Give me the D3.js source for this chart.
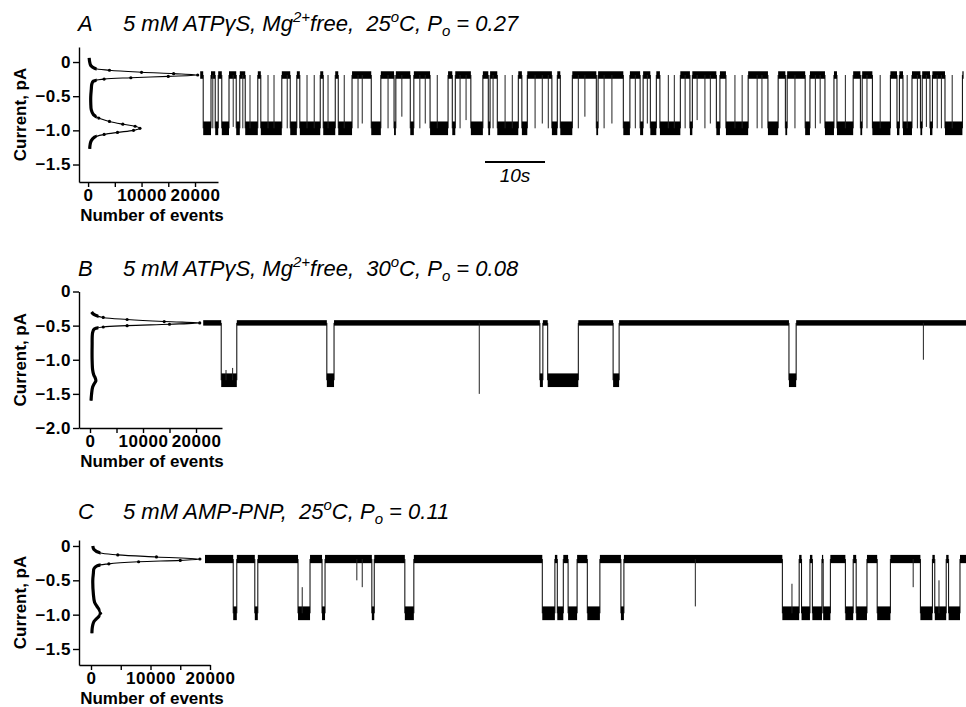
<!DOCTYPE html>
<html><head><meta charset="utf-8">
<script src="https://cdn.jsdelivr.net/npm/d3@7"></script>
<style>
body{margin:0;background:#fff;}
svg{display:block;font-family:"Liberation Sans",Arial,Helvetica,sans-serif;}
</style></head><body>
<svg id="chart" width="966" height="707"></svg>
<script>
// ================= DATA =================
const panelLetters = ["A", "B", "C"];
const titleSegA = [["5 mM ATPγS, Mg",""],["2+","sup"],["free,  25",""],["o","sup"],["C, P",""],["o","sub"],[" = 0.27",""]];
const titleSegB = [["5 mM ATPγS, Mg",""],["2+","sup"],["free,  30",""],["o","sup"],["C, P",""],["o","sub"],[" = 0.08",""]];
const titleSegC = [["5 mM AMP-PNP,  25",""],["o","sup"],["C, P",""],["o","sub"],[" = 0.11",""]];
const yAxisTitle = "Current, pA";
const xAxisTitle = "Number of events";
const scaleBarLabel = "10s";
const scaleBarSeconds = 10;

const yTicksA = [0, -0.5, -1.0, -1.5];
const yTicksB = [0, -0.5, -1.0, -1.5, -2.0];
const yTicksC = [0, -0.5, -1.0, -1.5];
const xTicks = [0, 5000, 10000, 15000, 20000];
const xTickLabels = [0, 10000, 20000];

// all-points histograms: [current (pA), number of events]
const histCurrentA = [0.06, 0.0, -0.05, -0.09, -0.12, -0.15, -0.17, -0.19, -0.21, -0.23, -0.25, -0.28, -0.32, -0.4, -0.5, -0.6, -0.7, -0.77, -0.82, -0.87, -0.91, -0.94, -0.97, -1.0, -1.03, -1.06, -1.1, -1.15, -1.2, -1.27];
const histCountA   = [200, 300, 500, 1200, 4000, 10000, 16000, 20500, 15000, 8000, 3000, 1000, 700, 600, 500, 500, 600, 1000, 2000, 4000, 6500, 8800, 9700, 8500, 5500, 3000, 1200, 600, 400, 300];
const histCurrentB = [-0.3, -0.34, -0.38, -0.41, -0.44, -0.46, -0.48, -0.5, -0.52, -0.55, -0.6, -0.8, -1.0, -1.15, -1.22, -1.27, -1.31, -1.35, -1.4, -1.5, -1.6];
const histCountB   = [300, 800, 2500, 7000, 14000, 20700, 15000, 7000, 2500, 800, 500, 400, 400, 500, 700, 1000, 1100, 800, 500, 300, 200];
const histCurrentC = [0.0, -0.05, -0.1, -0.13, -0.16, -0.19, -0.21, -0.23, -0.26, -0.29, -0.33, -0.4, -0.5, -0.7, -0.82, -0.88, -0.93, -0.98, -1.02, -1.06, -1.1, -1.15, -1.2, -1.27];
const histCountC   = [300, 500, 1500, 4500, 11000, 18300, 15000, 8000, 3000, 1000, 500, 400, 300, 400, 600, 1000, 1400, 1600, 1400, 900, 500, 300, 200, 150];

// single-channel traces: closed / open current levels (pA), record span (s), openings [start s, end s]
const levelsA = [-0.19, -0.97];
const spanA = [1.2, 128.3];
const openA = [[1.7,3.0],[3.7,4.2],[4.8,6.0],[7.2,7.8],[8.7,10.8],[11.3,14.8],[16.2,17.3],[17.8,21.2],[21.7,23.7],[24.2,26.5],[29.7,31.3],[33.5,33.8],[36.2,36.8],[39.5,42.5],[43.2,43.7],[46.3,48.3],[49.2,49.5],[50.7,54.2],[54.8,55.7],[59.8,60.7],[61.2,63.2],[67.2,67.5],[71.7,72.8],[74.5,75.0],[76.2,77.2],[77.8,81.2],[82.8,83.2],[87.2,87.8],[88.8,92.5],[95.8,97.5],[98.7,99.0],[102.0,102.8],[105.3,106.8],[107.3,110.0],[111.2,111.5],[113.2,116.2],[117.3,117.7],[118.3,119.8],[121.2,121.5],[122.8,123.2],[125.3,128.2]];
// brief events: [time s, current reached pA]
const spikesA = [[3.3,-0.97],[6.7,-0.95],[8.3,-0.97],[15.7,-0.97],[27.5,-0.97],[28.2,-0.9],[32.5,-0.97],[34.8,-0.8],[37.8,-0.97],[38.7,-0.9],[44.5,-0.97],[45.5,-0.85],[50.0,-0.97],[57.0,-0.97],[58.2,-0.9],[59.2,-0.97],[64.2,-0.97],[65.3,-0.8],[68.5,-0.97],[69.8,-0.9],[73.7,-0.97],[75.7,-0.9],[82.0,-0.97],[84.0,-0.85],[85.3,-0.97],[86.2,-0.9],[94.0,-0.97],[94.8,-0.97],[100.3,-0.97],[103.7,-0.97],[104.5,-0.9],[112.3,-0.97],[120.7,-0.97],[122.2,-0.95],[124.0,-0.97],[124.7,-0.97],
  [9.5,-0.19],[12.5,-0.19],[13.5,-0.19],[19.0,-0.19],[20.2,-0.19],[22.5,-0.19],[25.2,-0.19],[40.7,-0.19],[52.0,-0.19],[53.2,-0.19],[79.2,-0.19],[80.2,-0.19],[90.3,-0.19],[91.5,-0.19],[108.7,-0.19],[114.5,-0.19],[119.0,-0.19],[126.5,-0.19]];

const levelsB = [-0.46, -1.30];
const spanB = [1.7, 128.8];
const openB = [[4.7,7.3],[22.3,23.5],[57.8,58.3],[59.1,64.2],[70.0,71.0],[99.3,100.5]];
const spikesB = [[5.5,-1.15],[6.6,-1.12],[47.7,-1.50],[121.7,-1.0]];

const levelsC = [-0.19, -0.98];
const spanC = [2.0, 128.8];
const openC = [[6.7,7.3],[10.3,10.8],[17.5,19.5],[21.5,22.0],[29.8,30.2],[35.3,36.8],[58.2,60.3],[60.7,61.7],[62.5,64.0],[65.7,67.8],[71.3,71.8],[98.2,101.0],[101.4,102.8],[103.2,104.8],[105.0,106.2],[108.7,110.0],[110.5,112.3],[114.0,116.2],[121.2,123.2],[123.6,125.5],[125.9,127.8]];
const spikesC = [[27.3,-0.5],[28.2,-0.6],[83.7,-0.88],[120.0,-0.6],[18.2,-0.6],[99.8,-0.55],[124.3,-0.5]];

// ================= DRAWING =================
const svg = d3.select("#chart");
const tx = d3.scaleLinear().domain([0, 128.8]).range([193, 966]); // time scale (s)
const fmtY = d => d === 0 ? "0" : d3.format(".1f")(d);

function drawTitle(letter, segs, baseY) {
  svg.append("text").attr("x", 78).attr("y", baseY)
    .attr("font-size", 22).attr("font-style", "italic").text(letter);
  const t = svg.append("text").attr("x", 123).attr("y", baseY)
    .attr("font-size", 22).attr("font-style", "italic").style("white-space", "pre");
  let off = 0;
  segs.forEach(([s, k]) => {
    const target = k === "sup" ? -9 : (k === "sub" ? 5 : 0);
    t.append("tspan").attr("dy", target - off)
      .attr("font-size", k ? 15 : 22).text(s);
    off = target;
  });
}

function drawPanel(cfg) {
  const g = svg.append("g");
  const y = d3.scaleLinear().domain(cfg.yDomain).range(cfg.yRange);
  const x = d3.scaleLinear().domain(cfg.xDomain).range(cfg.xRange);

  // axes
  const ya = g.append("g").attr("transform", `translate(${cfg.xRange[0]},0)`)
    .call(d3.axisLeft(y).tickValues(cfg.yTicks).tickSize(6).tickSizeOuter(0).tickPadding(2).tickFormat(fmtY));
  const xa = g.append("g").attr("transform", `translate(0,${cfg.yRange[1]})`)
    .call(d3.axisBottom(x).tickValues(xTicks).tickSize(5).tickSizeOuter(0).tickPadding(2)
      .tickFormat(d => xTickLabels.includes(d) ? d : ""));
  xa.selectAll(".tick text").filter(function () { return this.textContent === ""; }).remove();
  [ya, xa].forEach(a => {
    a.selectAll("path,line").attr("stroke", "#000").attr("stroke-width", 1.4);
    a.selectAll("text").attr("font-size", 17).attr("font-weight", "bold").attr("letter-spacing", 0.5)
      .attr("font-family", "'Liberation Sans',Arial,sans-serif").attr("fill", "#000");
  });
  g.append("text").attr("transform", `translate(26,${(cfg.yRange[0] + cfg.yRange[1]) / 2}) rotate(-90)`)
    .attr("text-anchor", "middle").attr("font-size", 17).attr("font-weight", "bold").text(yAxisTitle);
  g.append("text").attr("x", 152).attr("y", cfg.yRange[1] + 39)
    .attr("text-anchor", "middle").attr("font-size", 17).attr("font-weight", "bold").text(xAxisTitle);

  // histogram
  const pts = cfg.hc.map((c, i) => [c, cfg.hn[i]]);
  const line = d3.line().x(d => x(d[1])).y(d => y(d[0])).curve(d3.curveCatmullRom.alpha(0.5));
  const clipId = "clip" + cfg.id;
  g.append("clipPath").attr("id", clipId).append("rect")
    .attr("x", cfg.xRange[0]).attr("y", 0).attr("width", x(1600) - cfg.xRange[0]).attr("height", 707);
  g.append("path").attr("d", line(pts)).attr("fill", "none").attr("stroke", "#000").attr("stroke-width", 3.2)
    .attr("clip-path", `url(#${clipId})`);
  g.append("path").attr("d", line(pts)).attr("fill", "none").attr("stroke", "#000").attr("stroke-width", 1.1);
  g.selectAll("circle.pt").data(pts.filter(d => d[1] > 1500)).join("circle")
    .attr("cx", d => x(d[1])).attr("cy", d => y(d[0])).attr("r", 1.6).attr("fill", "#000");

  // trace
  const [lc, lo] = cfg.levels;
  const closed = []; let cur = cfg.span[0];
  cfg.opens.forEach(([a, b]) => { if (a > cur) closed.push([cur, a]); cur = b; });
  if (cur < cfg.span[1]) closed.push([cur, cfg.span[1]]);
  const band = (segs, lev, half) => g.append("g").selectAll("rect").data(segs).join("rect")
    .attr("x", d => tx(d[0])).attr("width", d => Math.max(tx(d[1]) - tx(d[0]), 1.2))
    .attr("y", y(lev + half)).attr("height", y(lev - half) - y(lev + half)).attr("fill", "#000");
  band(closed, lc, cfg.halves[0]);
  band(cfg.opens, lo, cfg.halves[1]);
  const edges = [];
  cfg.opens.forEach(([a, b]) => { edges.push(a); edges.push(b); });
  g.append("g").selectAll("line").data(edges.filter(t => t > cfg.span[0] && t < cfg.span[1])).join("line")
    .attr("x1", d => tx(d)).attr("x2", d => tx(d)).attr("y1", y(lc)).attr("y2", y(lo))
    .attr("stroke", "#000").attr("stroke-width", 1);
  const isOpen = t => cfg.opens.some(([a, b]) => t >= a && t <= b);
  g.append("g").selectAll("line").data(cfg.spikes).join("line")
    .attr("x1", d => tx(d[0])).attr("x2", d => tx(d[0]))
    .attr("y1", d => y(isOpen(d[0]) ? lo : lc)).attr("y2", d => y(d[1]))
    .attr("stroke", "#222").attr("stroke-width", 1);
  return { g, y };
}

drawTitle(panelLetters[0], titleSegA, 31);
drawTitle(panelLetters[1], titleSegB, 276);
drawTitle(panelLetters[2], titleSegC, 519);

drawPanel({ id: "A", yDomain: [0.22, -1.756], yRange: [47, 182], xDomain: [-1700, 24300], xRange: [79, 218],
  yTicks: yTicksA, hc: histCurrentA, hn: histCountA, levels: levelsA, halves: [0.055, 0.1], span: spanA, opens: openA, spikes: spikesA });
drawPanel({ id: "B", yDomain: [0, -2.0], yRange: [291.5, 428], xDomain: [-2075, 24900], xRange: [79, 222],
  yTicks: yTicksB, hc: histCurrentB, hn: histCountB, levels: levelsB, halves: [0.04, 0.1], span: spanB, opens: openB, spikes: spikesB });
drawPanel({ id: "C", yDomain: [0.087, -1.733], yRange: [540, 665], xDomain: [-2017, 20000], xRange: [79, 210],
  yTicks: yTicksC, hc: histCurrentC, hn: histCountC, levels: levelsC, halves: [0.06, 0.1], span: spanC, opens: openC, spikes: spikesC });

// time scale bar (panel A)
const sbX = 485, sbW = tx(scaleBarSeconds) - tx(0);
svg.append("line").attr("x1", sbX).attr("x2", sbX + sbW).attr("y1", 162).attr("y2", 162)
  .attr("stroke", "#000").attr("stroke-width", 1.8);
svg.append("text").attr("x", sbX + sbW / 2).attr("y", 182).attr("text-anchor", "middle")
  .attr("font-size", 19).attr("font-style", "italic").text(scaleBarLabel);
</script>
</body></html>
